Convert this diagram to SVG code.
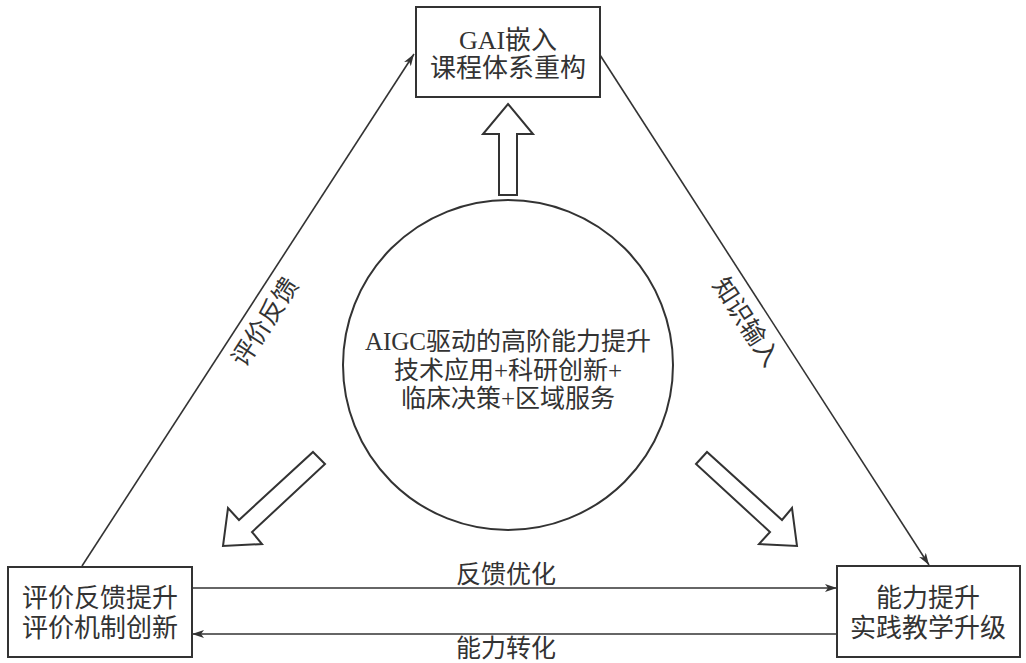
<svg xmlns="http://www.w3.org/2000/svg" width="1026" height="663" viewBox="0 0 1026 663">
<defs>
<style>
.box{fill:#fff;stroke:#333;stroke-width:2}
.t{font-family:"Liberation Serif","Noto Sans CJK SC",serif;fill:#333;text-anchor:middle;dominant-baseline:central}
.bt{font-size:26px}
.ct{font-size:25px}
.lt{font-size:25px}
.ln{fill:none;stroke:#333;stroke-width:1.6}
.ha{fill:#fff;stroke:#333;stroke-width:2;stroke-linejoin:miter}
</style>
<marker id="ah" viewBox="0 0 12 8" refX="12" refY="4" markerWidth="12" markerHeight="8" markerUnits="userSpaceOnUse" orient="auto">
<path d="M0,0 L12,4 L0,8 L3,4 Z" fill="#333"/>
</marker>
</defs>
<rect width="1026" height="663" fill="#fff"/>
<g id="connectors">
<line class="ln" x1="82" y1="566" x2="414" y2="54" marker-end="url(#ah)"/>
<line class="ln" x1="600" y1="55" x2="929" y2="565" marker-end="url(#ah)"/>
<line class="ln" x1="192" y1="588" x2="837" y2="588" marker-end="url(#ah)"/>
<line class="ln" x1="837" y1="634" x2="192" y2="634" marker-end="url(#ah)"/>
<text class="t lt" transform="translate(265,322) rotate(-57)">评价反馈</text>
<text class="t lt" transform="translate(746,322) rotate(57)">知识输入</text>
<text class="t lt" x="506" y="574">反馈优化</text>
<text class="t lt" x="506" y="648">能力转化</text>
<polygon class="ha" points="508,104 533,134 517,134 517,195 499,195 499,134 483,134"/>
<polygon class="ha" points="313,452 325,464 252,532 262,544 223,546 228,508 239,520"/>
<polygon class="ha" points="696,464 707,452 782,520 792,508 797,546 759,544 770,532"/>
</g>
<g id="node-top">
<rect class="box" x="416" y="7" width="184" height="90"/>
<text class="t bt" x="508" y="40">GAI嵌入</text>
<text class="t bt" x="508" y="68">课程体系重构</text>
</g>
<g id="node-center">
<circle cx="508" cy="365" r="165" fill="#fff" stroke="#333" stroke-width="2"/>
<text class="t ct" x="508" y="341">AIGC驱动的高阶能力提升</text>
<text class="t ct" x="508" y="370">技术应用+科研创新+</text>
<text class="t ct" x="508" y="398">临床决策+区域服务</text>
</g>
<g id="node-left">
<rect class="box" x="8" y="567" width="184" height="90"/>
<text class="t bt" x="100" y="598">评价反馈提升</text>
<text class="t bt" x="100" y="628">评价机制创新</text>
</g>
<g id="node-right">
<rect class="box" x="837" y="566" width="183" height="91"/>
<text class="t bt" x="928" y="598">能力提升</text>
<text class="t bt" x="928" y="628">实践教学升级</text>
</g>
</svg>
